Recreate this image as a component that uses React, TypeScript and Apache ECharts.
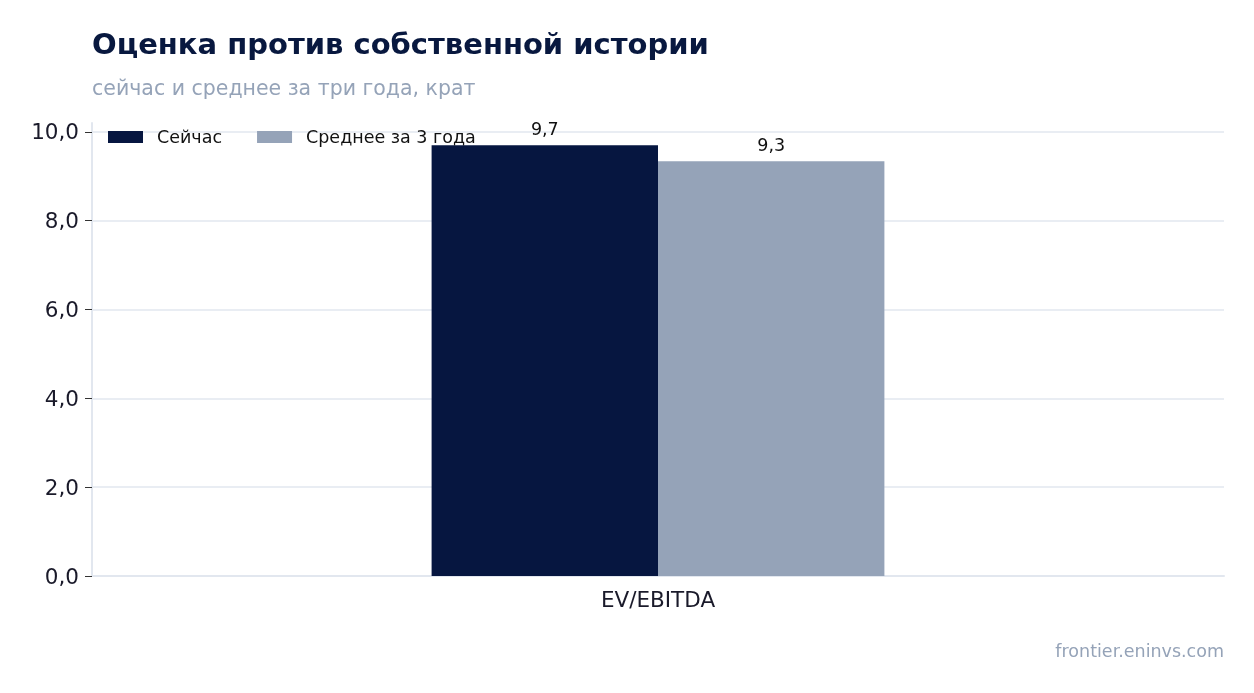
import React, { useRef, useEffect } from 'react'
import * as echarts from 'echarts'

const categories = ['EV/EBITDA']
const currentValues = [9.7]
const avgValues = [9.34]
const seriesNames = ['Сейчас', 'Среднее за 3 года']

const FONT = '"DejaVu Sans", sans-serif'
const fmt = (v: number) => v.toFixed(1).replace('.', ',')

function App() {
  const chartRef = useRef<HTMLDivElement>(null)

  useEffect(() => {
    const chart = echarts.init(chartRef.current, null, { renderer: 'svg' })

    const valueLabel = {
      show: true,
      position: 'top',
      distance: 7,
      fontFamily: FONT,
      fontSize: 17.5,
      color: '#111',
      formatter: (p: any) => fmt(p.value),
    }

    const option = {
      animation: false,
      textStyle: { fontFamily: FONT },
      title: [
        {
          text: 'Оценка против собственной истории',
          left: 92,
          top: 29,
          padding: 0,
          textStyle: { fontFamily: FONT, fontSize: 29, fontWeight: 'bold', color: '#08183f' },
        },
        {
          text: 'сейчас и среднее за три года, крат',
          left: 92,
          top: 77,
          padding: 0,
          textStyle: { fontFamily: FONT, fontSize: 20.5, fontWeight: 'normal', color: '#95a3b8' },
        },
        {
          text: 'frontier.eninvs.com',
          right: 30,
          top: 642,
          padding: 0,
          textStyle: { fontFamily: FONT, fontSize: 17.5, fontWeight: 'normal', color: '#95a3b8' },
        },
      ],
      legend: {
        left: 108,
        top: 128,
        padding: 0,
        itemWidth: 35,
        itemHeight: 12,
        itemGap: 35,
        icon: 'rect',
        textStyle: { fontFamily: FONT, fontSize: 17.5, color: '#111', padding: [0, 0, 0, 9] },
        data: seriesNames,
      },
      grid: { left: 92, right: 30, top: 123, bottom: 117 },
      xAxis: {
        type: 'category',
        data: categories,
        axisLine: { lineStyle: { color: '#e2e7ef', width: 2 } },
        axisTick: { alignWithLabel: true, length: 6, lineStyle: { color: '#333' } },
        axisLabel: { fontFamily: FONT, fontSize: 21.5, color: '#1a1a2a', margin: 12 },
      },
      yAxis: {
        type: 'value',
        min: 0,
        max: 10.2,
        interval: 2,
        axisLine: { show: true, lineStyle: { color: '#e2e7ef', width: 2 } },
        axisTick: { show: true, length: 7, lineStyle: { color: '#333' } },
        axisLabel: {
          fontFamily: FONT,
          fontSize: 21.5,
          color: '#1a1a2a',
          margin: 13,
          showMaxLabel: false,
          formatter: (v: number) => fmt(v),
        },
        splitLine: { showMaxLine: false, lineStyle: { color: '#e2e7ef', width: 1.5 } },
      },
      series: [
        {
          name: seriesNames[0],
          type: 'bar',
          data: currentValues,
          barWidth: '20%',
          barGap: '0%',
          itemStyle: { color: '#061640' },
          label: valueLabel,
        },
        {
          name: seriesNames[1],
          type: 'bar',
          data: avgValues,
          barWidth: '20%',
          barGap: '0%',
          itemStyle: { color: '#95a3b8' },
          label: valueLabel,
        },
      ],
    }

    chart.setOption(option)

    return () => {
      chart.dispose()
    }
  }, [])

  return (
    <div
      ref={chartRef}
      style={{ position: 'fixed', left: 0, top: 0, width: '100vw', height: '100vh' }}
    ></div>
  )
}

export default App
